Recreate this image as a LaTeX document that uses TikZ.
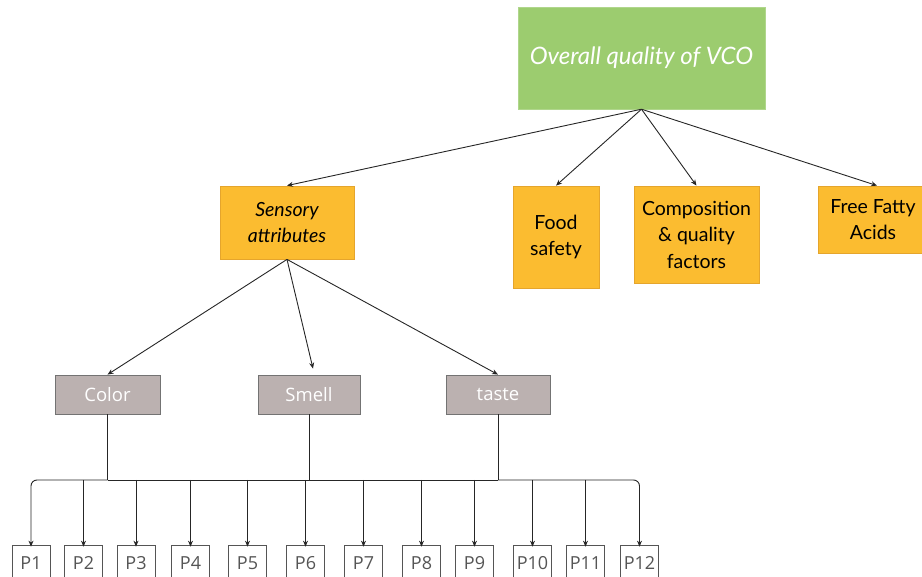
\documentclass[tikz,border=0pt]{standalone}
\usepackage{fontspec}
\setmainfont{Lato}
\newfontfamily\osans{Open Sans}
\usetikzlibrary{arrows.meta}

\definecolor{vcogreen}{HTML}{9CCC6F}
\definecolor{vcoorange}{HTML}{FBBC30}
\definecolor{vcoedge}{HTML}{E5A52C}
\definecolor{vcogrey}{HTML}{BBB1B0}
\definecolor{pgrey}{HTML}{555555}

\begin{document}
\begin{tikzpicture}[x=1pt,y=-1pt,
    arr/.style={draw=black!85,line width=0.9pt,-{Stealth[length=6pt,width=5pt]}},
    stem/.style={draw=black!85,line width=0.9pt},
    topbox/.style={fill=vcogreen,draw=vcogreen!80!white,minimum width=247pt,minimum height=102pt,
        text=white,font=\fontsize{24}{28}\selectfont\itshape},
    mainbox/.style={fill=vcoorange,draw=vcoedge,line width=0.8pt,align=center,
        font=\fontsize{19.5}{26.5}\selectfont},
    subbox/.style={fill=vcogrey,draw=black!55,line width=0.8pt,minimum height=39pt,
        text=white,font=\osans\fontsize{18.5}{20}\selectfont},
    pbox/.style={draw=pgrey,line width=0.7pt,minimum width=38pt,minimum height=36pt,
        text=pgrey,font=\osans\fontsize{18}{20}\selectfont}]

    % rahmen
    \useasboundingbox (0,0) rectangle (922,577);
    \clip (0,0) rectangle (922,577);

    % oberster knoten
    \node[topbox] (vco) at (641.5,58) {Overall quality of VCO};

    % zweite ebene
    \node[mainbox,minimum width=134pt,minimum height=73pt,font=\fontsize{19.5}{26.5}\selectfont\itshape] (sens) at (287,222.5) {Sensory\\attributes};
    \node[mainbox,minimum width=86pt,minimum height=102pt] (food) at (556,237) {Food\\safety};
    \node[mainbox,minimum width=125pt,minimum height=97pt] (comp) at (696.5,234.5) {Composition\\\& quality\\factors};
    \node[mainbox,minimum width=110pt,minimum height=67pt] (ffa) at (873,219.5) {Free Fatty\\Acids};

    \draw[arr] (vco.south) -- (sens.north);
    \draw[arr] (vco.south) -- (food.north);
    \draw[arr] (vco.south) -- (comp.north);
    \draw[arr] (vco.south) -- ([xshift=4pt]ffa.north);

    % sensorische merkmale
    \node[subbox,minimum width=105pt] (color) at (107.5,394.5) {Color};
    \node[subbox,minimum width=102pt] (smell) at (309,394.5) {Smell};
    \node[subbox,minimum width=104pt] (taste) at (498,394.5) {taste};

    \draw[arr] (sens.south) -- (color.north);
    \draw[arr] (sens.south) -- ([xshift=4pt,yshift=6pt]smell.north);
    \draw[arr] (sens.south) -- (taste.north);

    % sammelschiene
    \coordinate (bus) at (0,480);

    % proben P1 bis P12
    \foreach \x [count=\i] in {31,83.5,136,190.5,247.5,305.5,363.5,421.5,474.5,532.5,585.5,639.5}
        \node[pbox] (p\i) at (\x,563) {P\i};

    \draw[stem] (color.south) -- (color.south |- bus);
    \draw[stem] (smell.south) -- (smell.south |- bus);
    \draw[stem] (taste.south) -- (taste.south |- bus);
    \draw[stem] (color.south |- bus) -- (taste.south |- bus);

    % aeussere abzweige mit runden ecken
    \draw[arr,rounded corners=6pt] (color.south |- bus) -- (p1.north |- bus) -- ([yshift=-2pt]p1.north);
    \draw[arr,rounded corners=6pt] (taste.south |- bus) -- (p12.north |- bus) -- ([yshift=-2pt]p12.north);

    % innere abzweige
    \foreach \i in {2,...,11}
        \draw[arr] (p\i.north |- bus) -- ([yshift=-2pt]p\i.north);

\end{tikzpicture}
\end{document}
